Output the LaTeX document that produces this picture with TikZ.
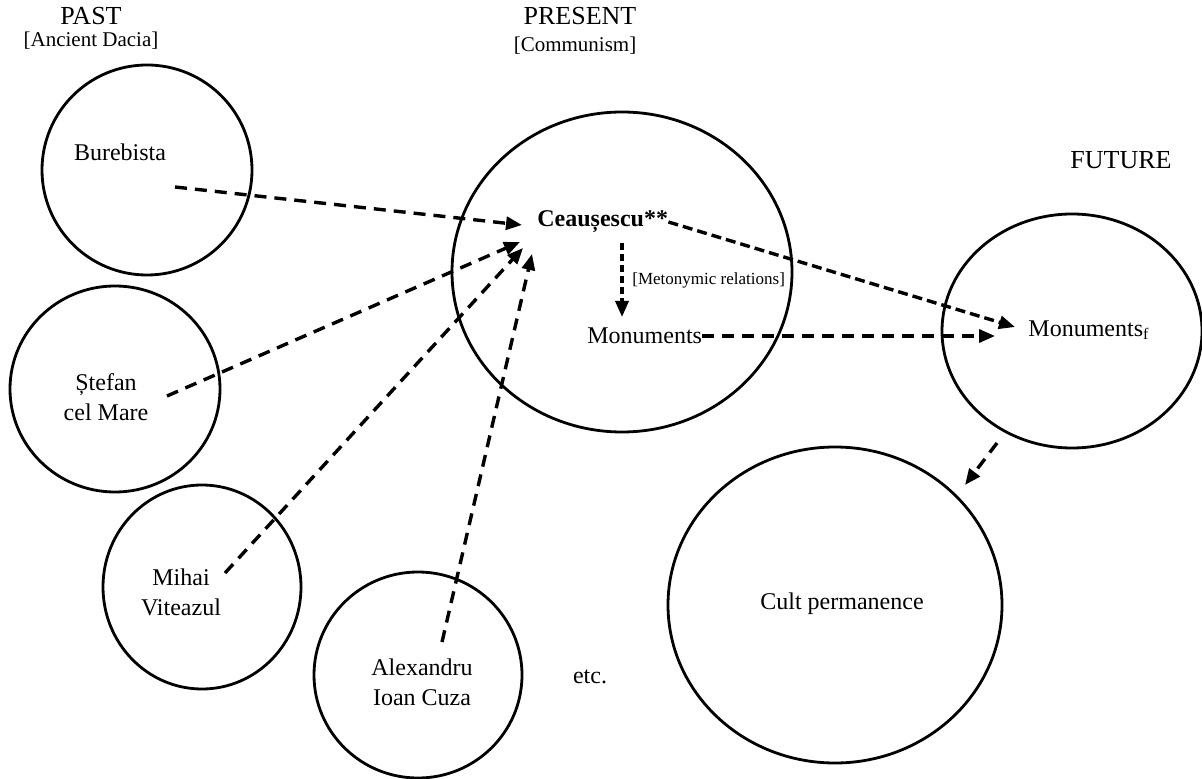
\documentclass[tikz,border=0pt]{standalone}
\usepackage{fontspec}
\setmainfont{Liberation Serif}
\usetikzlibrary{arrows.meta,positioning,shapes.geometric}

\begin{document}
\begin{tikzpicture}[x=0.5pt,y=-0.5pt,
  era/.style={ellipse,draw,line width=1.4pt,inner sep=0pt,outer sep=0pt},
  txt/.style={font=\fontsize{12}{15}\selectfont,align=center,inner sep=0pt},
  head/.style={font=\fontsize{13}{15}\selectfont,inner sep=0pt},
  subhead/.style={font=\fontsize{10.5}{13}\selectfont,inner sep=0pt},
  link/.style={line width=1.7pt,dash pattern=on 6pt off 4pt,-{Triangle[length=8pt,width=6.5pt]}}
  ]
\useasboundingbox (0,0) rectangle (1202,779);
% headings
\node[head] (past) at (91,16) {PAST};
\node[subhead] (pastsub) at (91,41) {[Ancient Dacia]};
\node[head] (present) at (580,16) {PRESENT};
\node[subhead] (presentsub) at (575,46) {[Communism]};
\node[head] (future) at (1121,160) {FUTURE};
% circles
\node[era,minimum width=105pt,minimum height=105pt] (bureC) at (147,170) {};
\node[era,minimum width=105pt,minimum height=103pt] (stefC) at (115,389) {};
\node[era,minimum width=99pt,minimum height=102pt] (mihaiC) at (202,587) {};
\node[era,minimum width=104pt,minimum height=103pt] (alexC) at (418,675) {};
\node[era,minimum width=170pt,minimum height=160pt] (presC) at (622,272) {};
\node[era,minimum width=130pt,minimum height=117pt] (monfC) at (1072,331) {};
\node[era,minimum width=167pt,minimum height=158pt] (cultC) at (835,605) {};
% names
\node[txt] (bure) at (120,152) {Burebista};
\node[txt] (stef) at (106,397) {Ștefan\\cel Mare};
\node[txt] (mihai) at (181,592) {Mihai\\Viteazul};
\node[txt] (alex) at (422,682) {Alexandru\\Ioan Cuza};
\node[txt] (etc) at (590,677) {etc.};
\node[txt,anchor=west,font=\fontsize{12}{14}\selectfont\bfseries] (ceau) at (537,222) {Ceaușescu**};
\node[txt,anchor=west] (mon) at (587,336) {Monuments};
\node[txt,anchor=west,font=\fontsize{8.5}{10}\selectfont] (metrel) at (632,280) {[Metonymic relations]};
\node[txt,anchor=west] (monf) at (1028,330) {Monuments\textsubscript{f}};
\node[txt] (cult) at (842,604) {Cult permanence};
% arrow ends
\coordinate (bure-out) at (175,187);
\coordinate (stef-out) at (167,396);
\coordinate (mihai-out) at (225,573);
\coordinate (alex-out) at (442,642);
\coordinate (ceau-in1) at (522,225);
\coordinate (ceau-in2) at (520,242);
\coordinate (ceau-in3) at (523,248);
\coordinate (ceau-in4) at (532,254);
\coordinate (ceau-down) at (622,243);
\coordinate (mon-up) at (622,317);
\coordinate (monf-in1) at (1015,327);
\coordinate (monf-in2) at (995,336);
\coordinate (monf-out) at (997,443);
\coordinate (cult-in) at (965,485);
% links
\draw[link] (bure-out) -- (ceau-in1);
\draw[link] (stef-out) -- (ceau-in2);
\draw[link] (mihai-out) -- (ceau-in3);
\draw[link] (alex-out) -- (ceau-in4);
\draw[link,dash pattern=on 3.5pt off 2pt] (ceau-down) -- (mon-up);
\draw[link,dash pattern=on 5pt off 2.5pt] (ceau.east) -- (monf-in1);
\draw[link] (mon.east) -- (monf-in2);
\draw[link] (monf-out) -- (cult-in);
\end{tikzpicture}
\end{document}
